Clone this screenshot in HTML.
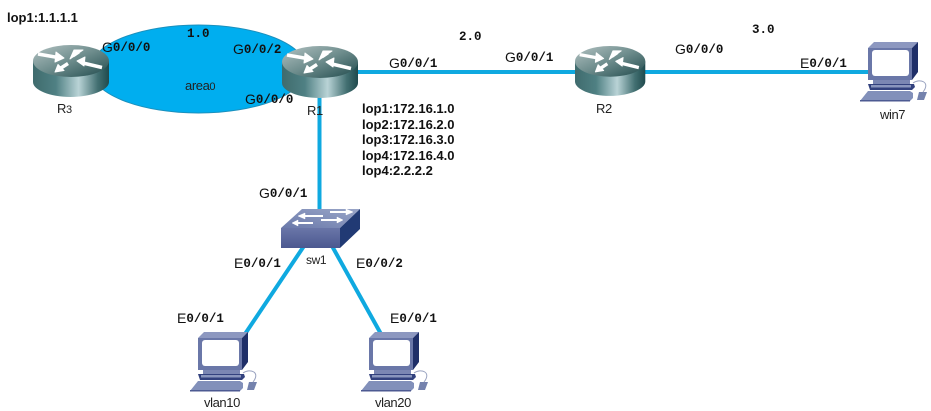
<!DOCTYPE html>
<html><head><meta charset="utf-8">
<style>
html,body{margin:0;padding:0;background:#fff;width:931px;height:411px;overflow:hidden}
svg{display:block}
.s{font-family:"Liberation Sans",sans-serif;font-size:13px;fill:#222;letter-spacing:-.4px}
.b{font-family:"Liberation Sans",sans-serif;font-size:13px;font-weight:bold;fill:#111}
.m{font-family:"Liberation Mono",monospace;font-size:12.5px;font-weight:bold;fill:#111}
.l{font-family:"Liberation Sans",sans-serif;font-size:14px;font-weight:normal;fill:#111}
</style></head><body>
<svg width="931" height="411" viewBox="0 0 931 411" xmlns="http://www.w3.org/2000/svg">
<defs>
<linearGradient id="rb" x1="0" x2="1" y1="0" y2="0">
<stop offset="0" stop-color="#3f6b6d"/><stop offset=".3" stop-color="#4f8083"/><stop offset=".6" stop-color="#b9d3d6"/><stop offset=".85" stop-color="#437072"/><stop offset="1" stop-color="#1f4a4d"/>
</linearGradient>
<linearGradient id="rt" x1="0" x2="1" y1="0" y2="1">
<stop offset="0" stop-color="#b3c2c2"/><stop offset=".5" stop-color="#6d8c8c"/><stop offset="1" stop-color="#204a4c"/>
</linearGradient>
<linearGradient id="sc" x1="0" x2="0" y1="0" y2="1"><stop offset="0" stop-color="#6a76a8"/><stop offset="1" stop-color="#4b5890"/></linearGradient>
<linearGradient id="st" x1="0" x2="1" y1="1" y2="0"><stop offset="0" stop-color="#6a79aa"/><stop offset="1" stop-color="#9aa6c8"/></linearGradient>
<g id="router">
<path d="M0 16 V37 C0 45 17 52 37.500 52 S76 45 76 37 V16 Z" fill="url(#rb)"/>
<ellipse cx="38" cy="16" rx="38" ry="16" fill="url(#rt)"/>
<g fill="#fff" stroke="#fff" stroke-linejoin="round">
<path d="M5 9 L25 12.500" stroke-width="3.500"/><path d="M31 13 L23 7 L22 17 Z" stroke-width="1"/>
<path d="M40 11 L46 7" stroke-width="3"/><path d="M37 14 L41 5 L50 5 Z" stroke-width="1"/>
<path d="M50 18 L69 22.500" stroke-width="3.500"/><path d="M44 16 L52 12 L51 21 Z" stroke-width="1"/>
<path d="M28 23 L35 18.500" stroke-width="3.500"/><path d="M22 27 L25 19.500 L31 25.500 Z" stroke-width="1"/>
</g>
</g>
<g id="pc">
<path d="M0 6 L6 0 H50 L44 6 Z" fill="#8d98c0"/>
<path d="M44 6 L50 0 V30 L44 38 Z" fill="#1f2f68"/>
<rect x="0" y="6" width="44" height="32" fill="#6a77a8"/>
<rect x="4" y="8" width="37" height="26" rx="3" fill="#fff"/>
<path d="M5 38 H42 V42 H5 Z" fill="#7b87b3"/>
<path d="M0 42 H46 L47 45 L44 48 H2 Z" fill="#33427e"/>
<rect x="3" y="43" width="40" height="2.500" fill="#8a96bd"/>
<path d="M0 49 H42 L45 51 V56 L42 59 H-8 Z" fill="#8290ba"/>
<path d="M-8 58 H42 V59.500 H-8 Z" fill="#4d5a92"/>
<path d="M51 50 L59 50 L56 58 L49 58 Z" fill="#7482ad"/>
<path d="M45 41 C52 36 63 40 55 50" fill="none" stroke="#9aa3c0" stroke-width="1"/>
</g>
</defs>

<ellipse cx="198.500" cy="69" rx="108" ry="44" fill="#00aeef" stroke="#1b90bd" stroke-width="1"/>

<g stroke="#0fa9e0" stroke-width="4" fill="none">
<line x1="350" y1="72" x2="580" y2="72"/>
<line x1="640" y1="72" x2="872" y2="72"/>
<line x1="319.500" y1="95" x2="319.500" y2="212"/>
<line x1="304" y1="246" x2="245" y2="334"/>
<line x1="332" y1="246" x2="381" y2="334"/>
</g>

<use href="#router" x="33" y="45"/>
<use href="#router" x="282" y="46"/>
<use href="#router" x="575" y="46" transform="translate(575 46) scale(.925 .96) translate(-575 -46)"/>

<path d="M281 228 L302 209 H360 L340 228 Z" fill="url(#st)"/>
<rect x="281" y="228" width="59" height="20" fill="url(#sc)"/>
<path d="M340 228 L360 209 V229 L340 248 Z" fill="#213a74"/>
<g fill="#fff" stroke="#fff">
<path d="M302 216 H323" stroke-width="2"/><path d="M298 216 L305 213 V219 Z" stroke-width=".5"/>
<path d="M330 212 H349" stroke-width="2"/><path d="M353 212 L346 209 V215 Z" stroke-width=".5"/>
<path d="M295 223 H313" stroke-width="2"/><path d="M292 223 L298 220 V226 Z" stroke-width=".5"/>
<path d="M321 220 H339" stroke-width="2"/><path d="M343 220 L337 217 V223 Z" stroke-width=".5"/>
</g>

<use href="#pc" x="198" y="332"/>
<use href="#pc" x="369" y="332"/>
<use href="#pc" x="868" y="42"/>

<text class="b" x="7" y="22">lop1:1.1.1.1</text>
<text class="b" x="362" y="113">lop1:172.16.1.0</text>
<text class="b" x="362" y="129">lop2:172.16.2.0</text>
<text class="b" x="362" y="144">lop3:172.16.3.0</text>
<text class="b" x="362" y="160">lop4:172.16.4.0</text>
<text class="b" x="362" y="175">lop4:2.2.2.2</text>

<text class="m" x="187" y="37">1.0</text>
<text class="m" x="459" y="40">2.0</text>
<text class="m" x="752" y="33">3.0</text>

<text class="s" x="185" y="90">area<tspan font-size="11">0</tspan></text>
<text class="s" x="57" y="113">R<tspan font-size="11">3</tspan></text>
<text class="s" x="307" y="115">R1</text>
<text class="s" x="596" y="113">R2</text>
<text class="s" x="306" y="264" style="font-size:12px">sw1</text>
<text class="s" x="204" y="407">vlan10</text>
<text class="s" x="375" y="407">vlan20</text>
<text class="s" x="880" y="119">win7</text>

<text x="102" y="52"><tspan class="l">G</tspan><tspan class="m" dy="-1">0/0/0</tspan></text>
<text x="233" y="54"><tspan class="l">G</tspan><tspan class="m" dy="-1">0/0/2</tspan></text>
<text x="245" y="104"><tspan class="l">G</tspan><tspan class="m" dy="-1">0/0/0</tspan></text>
<text x="389" y="68"><tspan class="l">G</tspan><tspan class="m" dy="-1">0/0/1</tspan></text>
<text x="505" y="62"><tspan class="l">G</tspan><tspan class="m" dy="-1">0/0/1</tspan></text>
<text x="675" y="54"><tspan class="l">G</tspan><tspan class="m" dy="-1">0/0/0</tspan></text>
<text x="800" y="68"><tspan class="l">E</tspan><tspan class="m" dy="-1">0/0/1</tspan></text>
<text x="259" y="198"><tspan class="l">G</tspan><tspan class="m" dy="-1">0/0/1</tspan></text>
<text x="234" y="268"><tspan class="l">E</tspan><tspan class="m" dy="-1">0/0/1</tspan></text>
<text x="356" y="268"><tspan class="l">E</tspan><tspan class="m" dy="-1">0/0/2</tspan></text>
<text x="177" y="323"><tspan class="l">E</tspan><tspan class="m" dy="-1">0/0/1</tspan></text>
<text x="390" y="323"><tspan class="l">E</tspan><tspan class="m" dy="-1">0/0/1</tspan></text>
</svg>
</body></html>
